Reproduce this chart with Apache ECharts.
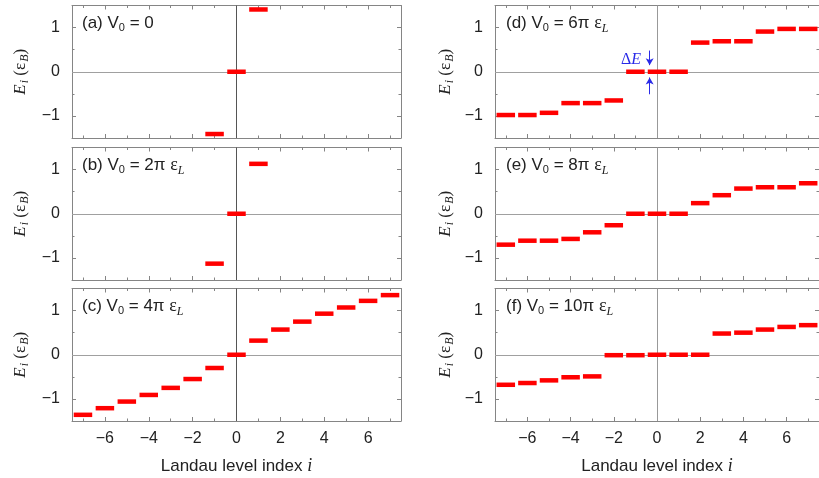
<!DOCTYPE html>
<html><head><meta charset="utf-8">
<script src="https://cdn.jsdelivr.net/npm/echarts@6/dist/echarts.min.js"></script>
<style>html,body{margin:0;padding:0;background:#fff}#c{width:819px;height:478px}</style>
</head><body><div id="c"></div>
<script>
// ---- data ----
const levels = [-7,-6,-5,-4,-3,-2,-1,0,1,2,3,4,5,6,7];
const levelsAB = [-1,0,1];
const energiesA = [-1.41,0,1.41];
const energiesB = [-1.13,0,1.13];
const energiesC = [-1.36,-1.21,-1.06,-0.91,-0.75,-0.55,-0.30,0,0.32,0.57,0.75,0.93,1.07,1.22,1.35];
const energiesD = [-0.98,-0.98,-0.93,-0.71,-0.71,-0.65,0,0,0,0.66,0.69,0.69,0.91,0.97,0.97];
const energiesE = [-0.70,-0.61,-0.61,-0.57,-0.42,-0.26,0,0,0,0.24,0.42,0.57,0.60,0.60,0.69];
const energiesF = [-0.68,-0.64,-0.58,-0.51,-0.49,-0.01,-0.01,0,0,0,0.48,0.50,0.57,0.63,0.67];
const xTickMajor = [-6,-4,-2,0,2,4,6];
const xTickMinor = [-7,-5,-3,-1,1,3,5,7];
const yTickMajor = [-1,0,1];
const yTickMinor = [-0.5,0.5];
const panelLabels = [
  '{t|(a) V}{s|0}{t| = 0}',
  '{t|(b) V}{s|0}{t| = 2π }{g|ε}{gs|L}',
  '{t|(c) V}{s|0}{t| = 4π }{g|ε}{gs|L}',
  '{t|(d) V}{s|0}{t| = 6π }{g|ε}{gs|L}',
  '{t|(e) V}{s|0}{t| = 8π }{g|ε}{gs|L}',
  '{t|(f) V}{s|0}{t| = 10π }{g|ε}{gs|L}'
];
const deltaEArrowX = -0.34;
const arrowDownY = [0.48, 0.15];
const arrowUpY = [-0.51, -0.13];

// ---- layout ----
const panels = [
  {lv: levelsAB, e: energiesA},
  {lv: levelsAB, e: energiesB},
  {lv: levels, e: energiesC},
  {lv: levels, e: energiesD},
  {lv: levels, e: energiesE},
  {lv: levels, e: energiesF}
];
const colLeft = [72, 495], colWidth = [329, 330];
const rowTop = [5.5, 147.5, 288.5], rowH = 132.5;
const frame = '#858585', txt = '#222';
const sans = 'Liberation Sans', serif = 'Liberation Serif';
const fmt = v => v < 0 ? '\u2212' + Math.abs(v) : String(v);

const grid = [], xAxis = [], yAxis = [], series = [], graphic = [];
panels.forEach((p, g) => {
  const col = g < 3 ? 0 : 1, row = g % 3;
  grid.push({left: colLeft[col], top: rowTop[row], width: colWidth[col], height: rowH, containLabel: false});
  const xb = {gridIndex: g, type: 'value', min: -7.5, max: 7.5, splitLine: {show: false}};
  const mk = (pos, major) => Object.assign({}, xb, {
    position: pos,
    axisLine: {show: major, onZero: false, lineStyle: {color: frame, width: 1}},
    axisTick: {show: true, inside: true, customValues: major ? xTickMajor : xTickMinor, length: major ? 4 : 2.5, lineStyle: {color: frame}},
    axisLabel: (pos === 'bottom' && major && row === 2) ? {show: true, customValues: xTickMajor, formatter: fmt, color: txt, fontFamily: sans, fontSize: 16, margin: 10} : {show: false},
    name: (pos === 'bottom' && major && row === 2) ? '{t|Landau level index }{i|i}' : '',
    nameLocation: 'middle', nameGap: 36,
    nameTextStyle: {rich: {t: {fontFamily: sans, fontSize: 17, color: txt}, i: {fontFamily: serif, fontStyle: 'italic', fontSize: 18, color: txt}}}
  });
  xAxis.push(mk('bottom', true), mk('bottom', false), mk('top', true), mk('top', false));
  const yb = {gridIndex: g, type: 'value', min: -1.5, max: 1.5, splitLine: {show: false}};
  const mky = (pos, major) => Object.assign({}, yb, {
    position: pos,
    axisLine: {show: major, onZero: false, lineStyle: {color: frame, width: 1}},
    axisTick: {show: true, inside: true, customValues: major ? yTickMajor : yTickMinor, length: major ? 4 : 2.5, lineStyle: {color: frame}},
    axisLabel: (pos === 'left' && major) ? {show: true, customValues: yTickMajor, formatter: fmt, color: txt, fontFamily: sans, fontSize: 16, margin: 12} : {show: false},
    name: (pos === 'left' && major) ? '{e|E}{s|i}{n| (ε}{s|B}{n|)}' : '',
    nameLocation: 'middle', nameGap: col === 0 ? 41 : 39,
    nameTextStyle: {rich: {
      e: {fontFamily: serif, fontStyle: 'italic', fontSize: 17, color: txt},
      n: {fontFamily: serif, fontSize: 17, color: txt},
      s: {fontFamily: serif, fontStyle: 'italic', fontSize: 12, color: txt, padding: [9, 0, 0, 1]}
    }}
  });
  yAxis.push(mky('left', true), mky('left', false), mky('right', true), mky('right', false));

  series.push({
    type: 'line', xAxisIndex: 4 * g, yAxisIndex: 4 * g, data: [], z: 1, zlevel: 0, silent: true,
    markLine: {silent: true, symbol: 'none', animation: false, label: {show: false}, z: 1,
      data: [
        {yAxis: 0, lineStyle: {color: '#a0a0a0', width: 1, type: 'solid'}},
        {xAxis: 0, lineStyle: {color: col === 0 ? '#555' : '#999', width: 1, type: 'solid'}}
      ]}
  });
  const s = {
    type: 'scatter', xAxisIndex: 4 * g, yAxisIndex: 4 * g, z: 20, silent: true,
    symbol: 'rect', symbolSize: [18.5, 4.5], itemStyle: {color: '#ff0000', opacity: 1},
    data: p.lv.map((l, k) => [l, p.e[k]])
  };
  if (g === 3) {
    s.markLine = {silent: true, symbol: ['none', 'arrow'], symbolSize: [6, 7], animation: false, label: {show: false},
      lineStyle: {color: '#2a2ae8', width: 1, type: 'solid'},
      data: [
        [{coord: [deltaEArrowX, arrowDownY[0]]}, {coord: [deltaEArrowX, arrowDownY[1]]}],
        [{coord: [deltaEArrowX, arrowUpY[0]]}, {coord: [deltaEArrowX, arrowUpY[1]]}]
      ]};
  }
  series.push(s);

  graphic.push({
    type: 'text', left: colLeft[col] + (col === 0 ? 10 : 11), top: rowTop[row] + 9, z: 10,
    style: {text: panelLabels[g], rich: {
      t: {fontFamily: sans, fontSize: 17, fill: txt},
      s: {fontFamily: sans, fontSize: 11, fill: txt, padding: [9, 0, 0, 0]},
      g: {fontFamily: serif, fontSize: 18, fill: txt},
      gs: {fontFamily: serif, fontStyle: 'italic', fontSize: 12, fill: txt, padding: [10, 0, 0, 0]}
    }}
  });
});
graphic.push({type: 'text', left: 621, top: 52, z: 10,
  style: {text: '{d|Δ}{e|E}', rich: {
    d: {fontFamily: serif, fontSize: 16, fill: '#2a2ae8'},
    e: {fontFamily: serif, fontStyle: 'italic', fontSize: 16, fill: '#2a2ae8'}}}});

const chart = echarts.init(document.getElementById('c'), null, {renderer: 'canvas'});
chart.setOption({animation: false, backgroundColor: '#fff', grid, xAxis, yAxis, series, graphic});
</script></body></html>
